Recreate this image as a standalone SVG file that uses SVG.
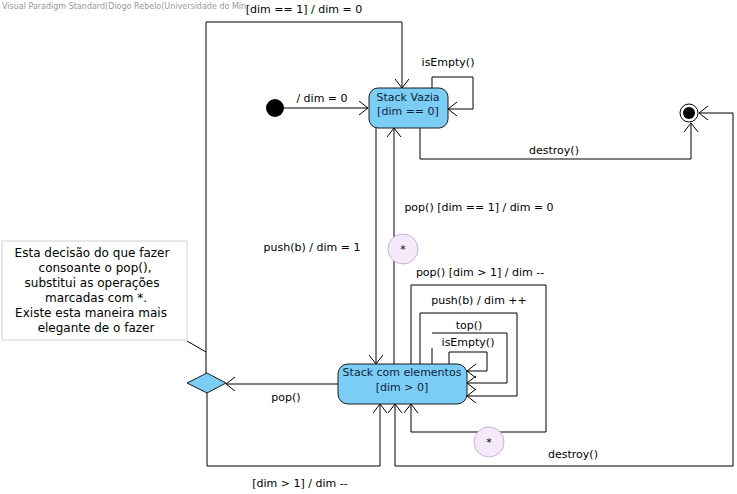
<svg xmlns="http://www.w3.org/2000/svg" width="737" height="494" viewBox="0 0 737 494">
<defs>
<marker id="arr" markerUnits="userSpaceOnUse" markerWidth="12" markerHeight="16" refX="10" refY="7" orient="auto">
<path d="M1,0 L10,7 L1,14" fill="none" stroke="#000" stroke-width="1"/>
</marker>
<style>
.t{font-family:"DejaVu Sans",sans-serif;font-size:11px;fill:#000;text-anchor:middle}
.st{fill:#7ccdf5;stroke:#1a1a1a;stroke-width:1}
.sl{font-family:"DejaVu Sans",sans-serif;font-size:11px;fill:#0d1f3a;text-anchor:middle}
.c{fill:none;stroke:#000;stroke-width:1;marker-end:url(#arr)}
.n{fill:none;stroke:#000;stroke-width:1}
.mk{fill:#f5eafa;stroke:#cfaee0;stroke-width:1}
.nt{font-family:"DejaVu Sans",sans-serif;font-size:12px;fill:#000;text-anchor:middle}
</style>
</defs>
<rect width="737" height="494" fill="#fff"/>
<text x="2" y="9" font-family="DejaVu Sans,sans-serif" font-size="8" fill="#999">Visual Paradigm Standard(Diogo Rebelo(Universidade do Minho))</text>
<rect x="246" y="0" width="120" height="18" fill="#fff"/>

<g id="connectors">
<path class="c" d="M284,108 H368"/>
<path class="c" d="M432,88 V77 H473 V109 H448"/>
<path class="c" d="M206,375 V22 H402 V88"/>
<path class="c" d="M420,128 V159 H691 V123"/>
<path class="c" d="M733,466 V113 H699"/>
<path class="c" d="M733,466 H395 V404"/>
<path class="c" d="M376,128 V364"/>
<path class="c" d="M394,364 V128"/>
<path class="c" d="M411,364 V285 H546 V432 H411 V404"/>
<path class="c" d="M420,364 V313 H517 V396 H467"/>
<path class="n" d="M432,364 V348"/>
<path class="c" d="M432,333 H507 V383 H467"/>
<path class="c" d="M449,364 V352 H487 V371 H467"/>
<path class="c" d="M338,384 H226"/>
<path class="c" d="M207,393 V466 H380 V404"/>
<path class="n" d="M187,341 L206,352"/>
</g>

<g id="labels">
<text class="t" x="304" y="13">[dim == 1] / dim = 0</text>
<text class="t" x="448" y="66">isEmpty()</text>
<text class="t" x="322" y="102">/ dim = 0</text>
<text class="t" x="554" y="154">destroy()</text>
<text class="t" x="479" y="211">pop() [dim == 1] / dim = 0</text>
<text class="t" x="312" y="251">push(b) / dim = 1</text>
<text class="t" x="480" y="276">pop() [dim &gt; 1] / dim --</text>
<text class="t" x="479" y="304">push(b) / dim ++</text>
<text class="t" x="469" y="329">top()</text>
<text class="t" x="468" y="346">isEmpty()</text>
<text class="t" x="286" y="401">pop()</text>
<text class="t" x="573" y="458">destroy()</text>
<text class="t" x="300" y="487">[dim &gt; 1] / dim --</text>
</g>

<g id="initial">
<circle cx="275" cy="108" r="9" fill="#000"/>
</g>

<g id="final">
<circle cx="689" cy="113" r="9" fill="#fff" stroke="#000" stroke-width="1"/>
<circle cx="689" cy="113" r="6" fill="#000"/>
</g>

<g id="stackVazia">
<rect class="st" x="369" y="88" width="79" height="40" rx="9"/>
<text class="sl" x="408" y="101">Stack Vazia</text>
<text class="sl" x="408" y="115">[dim == 0]</text>
</g>

<g id="stackElementos">
<rect class="st" x="338" y="364" width="129" height="40" rx="10"/>
<text class="sl" x="402" y="376">Stack com elementos</text>
<text class="sl" x="402" y="391">[dim &gt; 0]</text>
</g>

<g id="decision">
<polygon class="st" points="187,383 207,373 226,383 207,393"/>
</g>

<g id="mark1">
<circle class="mk" cx="403" cy="249" r="15"/>
<text class="t" x="403" y="253">*</text>
</g>
<g id="mark2">
<circle class="mk" cx="489" cy="442" r="15"/>
<text class="t" x="489" y="446">*</text>
</g>

<g id="note">
<rect x="2" y="241" width="185" height="99" fill="#fff" stroke="#d0d0d0" stroke-width="1"/>
<text class="nt" x="92" y="257">Esta decisão do que fazer</text>
<text class="nt" x="95" y="272">consoante o pop(),</text>
<text class="nt" x="92" y="287">substitui as operações</text>
<text class="nt" x="96" y="302">marcadas com *.</text>
<text class="nt" x="91" y="317">Existe esta maneira mais</text>
<text class="nt" x="96" y="332">elegante de o fazer</text>
</g>
</svg>
